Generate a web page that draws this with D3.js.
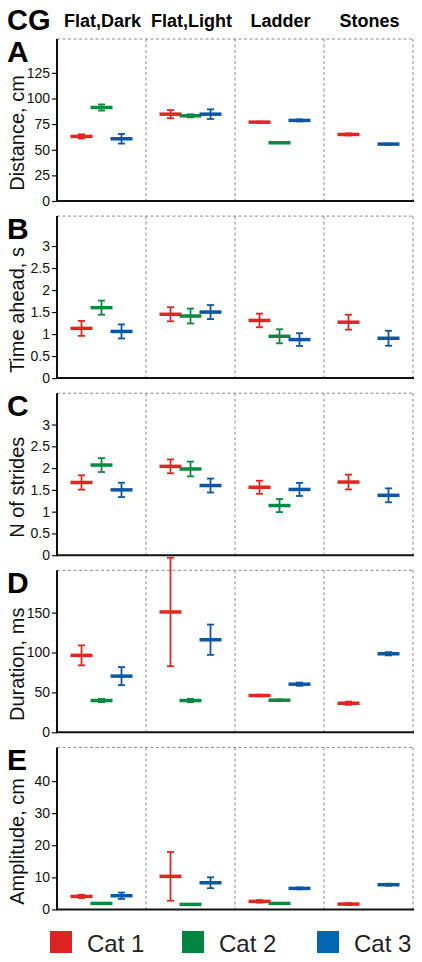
<!DOCTYPE html>
<html><head><meta charset="utf-8">
<script src="https://cdn.jsdelivr.net/npm/d3@7"></script>
<style>body{margin:0;background:#fff;}svg{display:block;font-family:"Liberation Sans",Arial,sans-serif;}</style>
</head><body>
<script>
const categories = ["Flat,Dark","Flat,Light","Ladder","Stones"];
const seriesNames = ["Cat 1","Cat 2","Cat 3"];
const colors = ["#e0261f","#0a8a40","#0b57a3"];
const legendColors = ["#dd2222","#00843f","#0066b0"];
const panelLetters = ["A","B","C","D","E"];
const yTitles = ["Distance, cm","Time ahead, s","N of strides","Duration, ms","Amplitude, cm"];
const yMax = [158, 3.68, 3.72, 203, 50.5];
const yTicks = [
  [0,25,50,75,100,125],
  [0,0.5,1,1.5,2,2.5,3],
  [0,0.5,1,1.5,2,2.5,3],
  [0,50,100,150],
  [0,10,20,30,40]
];
// means[series][category], null = no data
const distMean = [[63.0,84.7,76.9,64.9],[91.2,83.1,56.8,null],[60.7,84.7,78.6,55.5]];
const distErr  = [[2,4,0.5,1],[3,1.5,0,null],[4.7,4.7,1,0.5]];
const timeMean = [[1.13,1.45,1.31,1.27],[1.60,1.41,0.95,null],[1.06,1.50,0.875,0.905]];
const timeErr  = [[0.17,0.16,0.155,0.17],[0.16,0.17,0.16,null],[0.16,0.16,0.145,0.17]];
const strideMean = [[1.67,2.04,1.56,1.68],[2.07,1.98,1.14,null],[1.50,1.60,1.51,1.375]];
const strideErr  = [[0.165,0.16,0.15,0.17],[0.16,0.17,0.15,null],[0.165,0.16,0.15,0.16]];
const durMean = [[96.4,150.8,46.1,36.4],[39.8,39.8,40.2,null],[70.4,116,60.3,98.4]];
const durErr  = [[12.5,68,1,2],[2,2,1,null],[11.3,19,2,2]];
const ampMean = [[4.05,10.3,2.5,1.66],[1.87,1.56,1.87,null],[4.26,8.3,6.55,7.7]];
const ampErr  = [[0.5,7.6,0.4,0.3],[0,0,0,null],[1,1.7,0.3,0.3]];
const panelMeans = [distMean,timeMean,strideMean,durMean,ampMean];
const panelErrs = [distErr,timeErr,strideErr,durErr,ampErr];

const W = 422, H = 962;
const svg = d3.select("body").append("svg").attr("width",W).attr("height",H);
const x0 = 57, x1 = 413, plotH = 162, firstTop = 39, step = 177.1;
const x = d3.scaleBand().domain(categories).range([x0,x1]);
const off = d3.scalePoint().domain(seriesNames).range([-20,20]);

svg.append("text").attr("x",7).attr("y",30).attr("font-size",29).attr("font-weight","bold").text("CG");
svg.selectAll(".colhead").data(categories).enter().append("text")
  .attr("x",d=>x(d)+x.bandwidth()/2+1).attr("y",27).attr("text-anchor","middle")
  .attr("font-size",18).attr("font-weight","bold").text(d=>d);

panelLetters.forEach((L,i)=>{
  const top = firstTop + i*step, bottom = top + plotH;
  const y = d3.scaleLinear().domain([0,yMax[i]]).range([bottom,top]);
  const g = svg.append("g");
  const dash = {stroke:"#8a8a8a","stroke-dasharray":"3,2.5","stroke-width":1};
  const addDash = (xa,ya,xb,yb)=>{const l=g.append("line").attr("x1",xa).attr("y1",ya).attr("x2",xb).attr("y2",yb);Object.entries(dash).forEach(([k,v])=>l.attr(k,v));};
  addDash(x0,top,x1,top);
  addDash(x1,top,x1,bottom);
  categories.slice(1).forEach(c=>addDash(x(c),top,x(c),bottom));
  const ax = g.append("g").attr("transform",`translate(${x0},0)`)
    .call(d3.axisLeft(y).tickValues(yTicks[i]).tickSize(5).tickPadding(2).tickFormat(d3.format("")));
  ax.attr("font-family","Liberation Sans, Arial, sans-serif");
  ax.select(".domain").attr("stroke","#111").attr("stroke-width",2).attr("d",`M0,${top}V${bottom}`);
  ax.selectAll(".tick line").attr("stroke","#111").attr("stroke-width",1.2);
  ax.selectAll(".tick text").attr("font-size",14).attr("fill","#111");
  g.append("line").attr("x1",x0-1).attr("x2",x1+1).attr("y1",bottom).attr("y2",bottom).attr("stroke","#111").attr("stroke-width",2);
  svg.append("text").attr("x",7).attr("y",top+23).attr("font-size",30).attr("font-weight","bold").text(L);
  svg.append("text").attr("transform",`translate(24,${top+94}) rotate(-90)`).attr("text-anchor","middle")
    .attr("font-size",20).attr("fill","#111").text(yTitles[i]);
  const means = panelMeans[i], errs = panelErrs[i];
  const pts = [];
  seriesNames.forEach((s,si)=>categories.forEach((c,ci)=>{
    const m = means[si][ci];
    if(m!==null) pts.push({s,si,c,m,e:errs[si][ci]});
  }));
  const mk = g.selectAll(".mk").data(pts).enter().append("g")
    .attr("transform",d=>`translate(${x(d.c)+x.bandwidth()/2+off(d.s)},0)`);
  mk.filter(d=>d.e>0).append("line").attr("x1",0).attr("x2",0)
    .attr("y1",d=>y(d.m-d.e)).attr("y2",d=>y(d.m+d.e)).attr("stroke",d=>colors[d.si]).attr("stroke-width",1.8);
  mk.filter(d=>d.e>0).selectAll(".cap").data(d=>[{y:d.m-d.e,si:d.si},{y:d.m+d.e,si:d.si}]).enter().append("line")
    .attr("x1",-3.5).attr("x2",3.5).attr("y1",d=>y(d.y)).attr("y2",d=>y(d.y)).attr("stroke",d=>colors[d.si]).attr("stroke-width",1.8);
  mk.append("line").attr("x1",-11).attr("x2",11).attr("y1",d=>y(d.m)).attr("y2",d=>y(d.m))
    .attr("stroke",d=>colors[d.si]).attr("stroke-width",3.5);
});

const legX = [50,182,317];
const lg = svg.selectAll(".lg").data(seriesNames).enter().append("g").attr("transform",(d,i)=>`translate(${legX[i]},931)`);
lg.append("rect").attr("width",22).attr("height",22).attr("fill",(d,i)=>legendColors[i]);
lg.append("text").attr("x",37).attr("y",21).attr("font-size",24).attr("fill","#222").text(d=>d);
</script>
</body></html>
